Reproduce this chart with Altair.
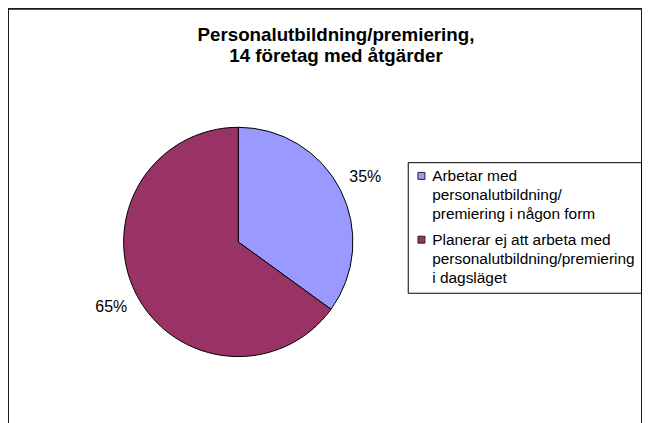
import altair as alt
import pandas as pd

TITLE_LINES = ["Personalutbildning/premiering,", "14 företag med åtgärder"]
CATEGORIES = [
    "Arbetar med|personalutbildning/|premiering i någon form",
    "Planerar ej att arbeta med|personalutbildning/premiering|i dagsläget",
]
VALUES = [35, 65]
PCT_LABELS = ["35%", "65%"]
COLORS = ["#9999FF", "#993366"]

df = pd.DataFrame({
    "cat": CATEGORIES,
    "value": VALUES,
    "pct": PCT_LABELS,
    "order": list(range(len(CATEGORIES))),
})

FONT = "Liberation Sans"
CX, CY = 231, 234

base = alt.Chart(df).encode(
    theta=alt.Theta("value:Q", stack=True),
    order=alt.Order("order:Q"),
    x=alt.value(CX),
    y=alt.value(CY),
)

pie = base.mark_arc(radius=115, stroke="#000000", strokeWidth=1).encode(
    color=alt.Color(
        "cat:N",
        scale=alt.Scale(domain=CATEGORIES, range=COLORS),
        legend=alt.Legend(
            title=None,
            orient="none",
            legendX=401,
            legendY=154,
            labelExpr="split(datum.label, '|')",
            labelFont=FONT,
            labelFontSize=15.5,
            labelColor="#000000",
            labelLimit=400,
            labelOffset=3,
            symbolType="square",
            symbolSize=49,
            symbolStrokeColor="#222222",
            symbolStrokeWidth=1,
            rowPadding=9,
            padding=6,
            strokeColor="#000000",
            fillColor="#ffffff",
        ),
    )
)

labels = base.mark_text(radius=143, fontSize=16, font=FONT, color="#000000").encode(
    text="pct:N"
)

title = alt.Chart(pd.DataFrame({"t": [TITLE_LINES]})).mark_text(
    font=FONT, fontSize=18.8, fontWeight="bold", color="#000000",
    align="center", baseline="alphabetic", lineHeight=22,
).encode(text="t", x=alt.value(329), y=alt.value(32))

chart = alt.layer(pie, labels, title).properties(
    width=636, height=420, padding=0, autosize="none", background="#ffffff"
).configure(
    style={"guide-label": {"lineHeight": 19}}
).configure_view(stroke="#1a1a1a", strokeWidth=2)

chart.save("out.html", embed_options={"renderer": "svg", "actions": False})
